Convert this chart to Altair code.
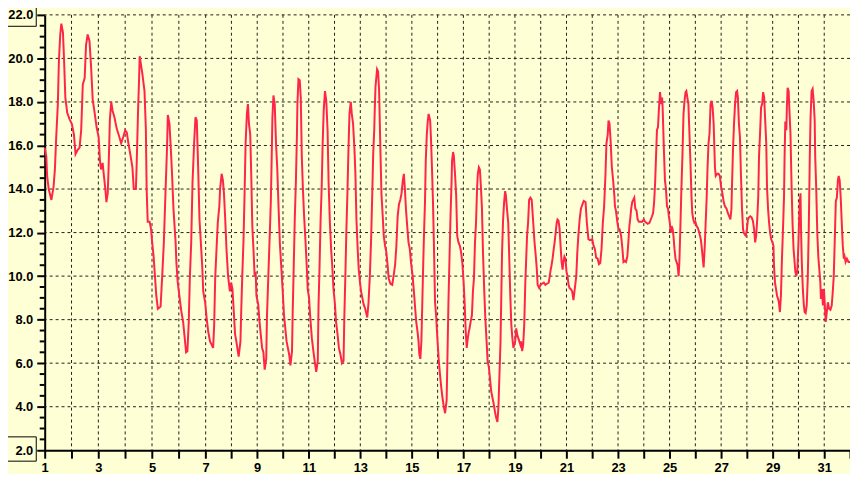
import altair as alt
import pandas as pd

# ---- data (day of month, temperature) ----
day = [
    1.00, 1.06, 1.09, 1.15, 1.25, 1.33, 1.38, 1.43, 1.49, 1.53, 1.58, 1.62, 1.68, 1.72, 1.77, 1.84, 1.93,
    2.01, 2.09, 2.15, 2.23, 2.30, 2.36, 2.42, 2.49, 2.54, 2.60, 2.67, 2.73, 2.79, 2.85, 2.94,
    3.01, 3.06, 3.10, 3.16, 3.20, 3.26, 3.30, 3.35, 3.38, 3.43, 3.48, 3.53, 3.60, 3.68, 3.78, 3.85, 3.93,
    4.00, 4.06, 4.12, 4.19, 4.27, 4.32, 4.40, 4.43, 4.48, 4.52, 4.54, 4.59, 4.64, 4.72, 4.77, 4.80, 4.84, 4.91, 4.96,
    5.01, 5.06, 5.11, 5.16, 5.22, 5.32, 5.38, 5.44, 5.51, 5.56, 5.59, 5.65, 5.70, 5.75, 5.80, 5.88, 5.91, 5.96,
    6.02, 6.09, 6.16, 6.22, 6.27, 6.32, 6.37, 6.41, 6.46, 6.51, 6.57, 6.62, 6.67, 6.72, 6.77, 6.82, 6.87, 6.91, 6.98,
    7.04, 7.10, 7.17, 7.23, 7.29, 7.33, 7.37, 7.42, 7.47, 7.53, 7.56, 7.62, 7.67, 7.71, 7.76, 7.81, 7.87, 7.94, 7.99,
    8.04, 8.09, 8.14, 8.19, 8.28, 8.35, 8.38, 8.42, 8.47, 8.51, 8.55, 8.60, 8.64, 8.68, 8.73, 8.77, 8.81, 8.86, 8.90, 8.94, 8.97,
    9.04, 9.09, 9.14, 9.19, 9.24, 9.29, 9.35, 9.38, 9.44, 9.49, 9.53, 9.56, 9.59, 9.63, 9.68, 9.73, 9.78, 9.83, 9.88, 9.94, 9.99,
    10.04, 10.09, 10.14, 10.19, 10.24, 10.29, 10.35, 10.38, 10.42, 10.46, 10.50, 10.54, 10.56, 10.60, 10.65, 10.69, 10.73, 10.77, 10.82, 10.87, 10.92, 10.96,
    11.01, 11.06, 11.12, 11.18, 11.23, 11.29, 11.35, 11.38, 11.42, 11.46, 11.50, 11.54, 11.58, 11.63, 11.68, 11.73, 11.77, 11.82, 11.87, 11.91, 11.96,
    12.01, 12.06, 12.12, 12.17, 12.23, 12.29, 12.35, 12.38, 12.42, 12.46, 12.50, 12.54, 12.58, 12.63, 12.67, 12.72, 12.77, 12.81, 12.85, 12.90, 12.94, 12.99,
    13.03, 13.08, 13.13, 13.19, 13.27, 13.32, 13.37, 13.42, 13.46, 13.50, 13.54, 13.56, 13.59, 13.62, 13.65, 13.69, 13.73, 13.78, 13.82, 13.87, 13.91, 13.96,
    14.01, 14.06, 14.10, 14.17, 14.24, 14.29, 14.35, 14.40, 14.45, 14.50, 14.55, 14.60, 14.65, 14.69, 14.73, 14.77, 14.82, 14.87, 14.92, 14.97,
    15.03, 15.08, 15.13, 15.17, 15.22, 15.26, 15.29, 15.33, 15.37, 15.40, 15.44, 15.47, 15.51, 15.54, 15.58, 15.62, 15.65, 15.71, 15.74, 15.78, 15.82, 15.86, 15.90, 15.94, 15.99,
    16.04, 16.09, 16.14, 16.19, 16.24, 16.29, 16.35, 16.38, 16.42, 16.46, 16.50, 16.54, 16.56, 16.60, 16.63, 16.68, 16.72, 16.76, 16.81, 16.86, 16.91, 16.96,
    17.01, 17.05, 17.09, 17.13, 17.17, 17.21, 17.24, 17.28, 17.33, 17.37, 17.41, 17.45, 17.49, 17.53, 17.56, 17.60, 17.64, 17.68, 17.72, 17.76, 17.81, 17.85, 17.90, 17.94, 17.99,
    18.04, 18.08, 18.13, 18.18, 18.22, 18.27, 18.32, 18.36, 18.40, 18.44, 18.47, 18.50, 18.54, 18.58, 18.62, 18.65, 18.69, 18.74, 18.78, 18.82, 18.86, 18.90, 18.94, 18.97,
    19.01, 19.05, 19.09, 19.13, 19.17, 19.21, 19.24, 19.28, 19.32, 19.36, 19.40, 19.44, 19.47, 19.51, 19.55, 19.60, 19.65, 19.71, 19.76, 19.81, 19.85, 19.88, 19.94, 19.99,
    20.05, 20.12, 20.18, 20.24, 20.31, 20.35, 20.38, 20.42, 20.46, 20.50, 20.54, 20.58, 20.62, 20.65, 20.69, 20.73, 20.77, 20.81, 20.85, 20.88, 20.92, 20.96,
    21.00, 21.04, 21.08, 21.12, 21.17, 21.22, 21.27, 21.31, 21.38, 21.42, 21.46, 21.51, 21.56, 21.62, 21.67, 21.74, 21.79, 21.85, 21.91,
    22.00, 22.05, 22.10, 22.15, 22.21, 22.26, 22.31, 22.36, 22.41, 22.46, 22.51, 22.55, 22.60, 22.63, 22.67, 22.71, 22.76, 22.81, 22.86, 22.88, 22.92, 22.96,
    23.01, 23.06, 23.12, 23.17, 23.21, 23.26, 23.31, 23.36, 23.40, 23.44, 23.47, 23.51, 23.55, 23.59, 23.63, 23.67, 23.72, 23.76, 23.81, 23.87, 23.94,
    24.00, 24.05, 24.10, 24.15, 24.22, 24.27, 24.32, 24.36, 24.40, 24.44, 24.47, 24.51, 24.55, 24.59, 24.63, 24.67, 24.71, 24.73, 24.78, 24.82, 24.86, 24.90, 24.94, 24.97,
    25.01, 25.04, 25.08, 25.12, 25.15, 25.19, 25.23, 25.27, 25.31, 25.35, 25.38, 25.42, 25.46, 25.50, 25.54, 25.58, 25.62, 25.65, 25.69, 25.73, 25.77, 25.81, 25.85, 25.88, 25.92, 25.96,
    26.00, 26.05, 26.10, 26.15, 26.21, 26.24, 26.28, 26.32, 26.36, 26.40, 26.44, 26.47, 26.51, 26.55, 26.59, 26.63, 26.67, 26.71, 26.76, 26.79, 26.85, 26.90, 26.95,
    27.00, 27.05, 27.10, 27.15, 27.21, 27.26, 27.31, 27.36, 27.40, 27.42, 27.46, 27.50, 27.54, 27.58, 27.62, 27.65, 27.69, 27.73, 27.77, 27.81, 27.85, 27.88, 27.92, 27.96,
    28.00, 28.04, 28.08, 28.13, 28.18, 28.23, 28.28, 28.32, 28.36, 28.40, 28.44, 28.47, 28.51, 28.55, 28.59, 28.63, 28.67, 28.71, 28.75, 28.78, 28.82, 28.86, 28.90, 28.94, 28.99,
    29.03, 29.05, 29.09, 29.13, 29.17, 29.21, 29.24, 29.28, 29.32, 29.36, 29.40, 29.44, 29.46, 29.49, 29.53, 29.55, 29.58, 29.62, 29.65, 29.69, 29.73, 29.77, 29.81, 29.85, 29.88, 29.92, 29.96,
    30.00, 30.03, 30.05, 30.08, 30.10, 30.13, 30.17, 30.21, 30.24, 30.28, 30.32, 30.36, 30.40, 30.44, 30.47, 30.51, 30.55, 30.59, 30.63, 30.65, 30.69, 30.73, 30.77, 30.81, 30.85, 30.87, 30.91, 30.95, 30.99,
    31.03, 31.06, 31.10, 31.14, 31.19, 31.24, 31.29, 31.33, 31.37, 31.41, 31.45, 31.49, 31.53, 31.56, 31.60, 31.64, 31.68, 31.72, 31.76, 31.79, 31.83, 31.88, 31.94, 32.00,
]

temp = [
    15.9, 15.5, 14.6, 14.0, 13.5, 14.1, 14.9, 16.4, 17.9, 19.9, 21.1, 21.6, 21.2, 20.0, 18.2, 17.5, 17.2,
    17.0, 16.5, 15.6, 15.8, 15.9, 16.7, 18.8, 19.1, 20.6, 21.1, 20.8, 19.6, 18.1, 17.6, 16.8,
    16.4, 15.3, 14.9, 15.2, 14.7, 14.0, 13.4, 13.8, 14.9, 17.2, 18.0, 17.6, 17.3, 16.8, 16.4, 16.1, 16.4,
    16.7, 16.6, 16.1, 15.6, 15.0, 14.0, 14.0, 15.2, 17.6, 19.1, 20.1, 19.7, 19.3, 18.5, 16.8, 14.0, 12.5, 12.5, 12.2,
    11.5, 10.9, 10.0, 9.1, 8.5, 8.6, 10.0, 11.5, 14.1, 15.9, 17.4, 17.0, 15.9, 14.6, 13.1, 11.55, 10.6, 9.7,
    9.1, 8.4, 7.9, 7.15, 6.5, 6.55, 7.9, 9.9, 11.5, 14.3, 16.1, 17.3, 17.15, 15.0, 12.6, 11.55, 10.5, 9.3, 8.8,
    8.05, 7.45, 7.0, 6.85, 6.7, 7.75, 9.9, 11.2, 12.45, 13.2, 14.0, 14.7, 14.4, 13.8, 12.6, 11.2, 10.0, 9.3, 9.7,
    9.4, 8.4, 7.35, 7.0, 6.3, 7.0, 8.4, 10.0, 11.7, 13.8, 16.1, 17.45, 17.9, 17.0, 16.5, 14.6, 12.3, 11.1, 10.0, 10.2, 9.1,
    8.7, 7.9, 7.3, 6.7, 6.5, 5.7, 6.2, 8.2, 10.3, 12.0, 13.5, 15.3, 17.3, 18.3, 17.9, 16.1, 14.9, 13.1, 11.5, 10.3, 9.3,
    8.2, 7.6, 7.0, 6.7, 6.4, 5.9, 6.55, 8.5, 10.6, 12.75, 14.3, 16.4, 17.9, 19.05, 19.0, 18.2, 15.5, 14.1, 12.75, 11.7, 10.5, 9.4,
    9.0, 8.1, 7.15, 6.55, 6.1, 5.6, 6.1, 8.7, 10.5, 12.6, 14.0, 16.1, 17.6, 18.5, 18.05, 16.7, 14.3, 12.45, 11.2, 10.5, 9.4,
    8.8, 7.9, 7.3, 6.7, 6.4, 6.0, 6.1, 8.1, 10.0, 12.1, 13.8, 15.8, 17.45, 18.0, 17.45, 17.0, 15.9, 14.7, 12.6, 11.2, 10.3, 9.7,
    9.3, 9.0, 8.7, 8.5, 8.1, 8.8, 10.0, 11.7, 13.6, 15.6, 16.7, 17.6, 18.7, 19.1, 19.5, 19.4, 18.5, 15.8, 13.8, 12.75, 11.85, 11.4,
    11.1, 10.5, 9.9, 9.65, 9.6, 10.0, 10.5, 11.4, 12.75, 13.3, 13.5, 13.8, 14.4, 14.7, 14.0, 13.1, 12.3, 11.55, 11.25, 10.6,
    10.0, 9.3, 8.5, 7.9, 7.45, 7.0, 6.4, 6.2, 7.0, 8.5, 10.5, 11.85, 13.4, 15.3, 16.5, 17.15, 17.45, 17.15, 16.4, 15.0, 13.4, 11.25, 8.8, 8.2, 7.15,
    6.2, 5.5, 4.9, 4.4, 4.0, 3.7, 4.3, 6.2, 8.8, 10.8, 12.75, 14.3, 15.3, 15.7, 15.5, 14.6, 13.7, 11.85, 11.55, 11.4, 11.1, 10.6,
    9.7, 8.7, 7.45, 6.7, 7.15, 7.45, 7.6, 7.9, 8.2, 9.3, 9.9, 11.55, 12.45, 14.0, 14.7, 15.0, 14.9, 14.1, 13.1, 11.1, 9.3, 8.1, 7.0, 6.1, 5.8,
    5.2, 4.7, 4.4, 4.1, 3.8, 3.5, 3.3, 4.0, 5.5, 7.0, 9.0, 11.1, 12.6, 13.4, 13.9, 13.7, 13.1, 12.45, 10.8, 9.1, 7.75, 7.15, 6.7, 6.85,
    7.0, 7.6, 7.3, 7.15, 7.0, 6.85, 7.0, 6.55, 6.85, 7.75, 9.6, 10.9, 11.85, 12.45, 13.5, 13.6, 13.5, 12.45, 11.55, 10.9, 10.3, 9.6, 9.45, 9.6,
    9.65, 9.7, 9.6, 9.65, 9.7, 10.0, 10.25, 10.5, 10.8, 11.2, 11.55, 12.0, 12.45, 12.6, 12.55, 12.2, 11.4, 10.65, 10.3, 10.65, 10.9, 10.8,
    10.2, 10.0, 9.6, 9.45, 9.4, 9.3, 8.9, 9.3, 10.0, 11.1, 11.85, 12.6, 13.1, 13.3, 13.45, 13.4, 12.45, 11.7, 11.65,
    11.7, 11.4, 11.25, 10.85, 10.8, 10.55, 10.6, 11.25, 12.45, 13.2, 14.6, 16.1, 16.5, 17.15, 17.0, 16.25, 15.0, 14.4, 13.65, 13.2, 13.0, 12.6,
    12.2, 12.15, 11.85, 11.25, 10.65, 10.7, 10.65, 10.9, 11.55, 12.3, 12.6, 13.1, 13.4, 13.5, 13.6, 13.1, 13.0, 12.6, 12.5, 12.5, 12.5,
    12.6, 12.5, 12.45, 12.4, 12.45, 12.6, 12.75, 12.9, 13.4, 14.3, 15.35, 16.7, 16.85, 17.75, 18.45, 17.9, 18.2, 17.75, 15.8, 14.4, 14.0, 13.2, 13.1, 12.75,
    12.45, 12.0, 12.3, 12.15, 11.85, 11.25, 10.8, 10.65, 10.5, 10.0, 10.65, 12.3, 14.1, 15.6, 17.45, 18.05, 18.45, 18.5, 18.2, 17.9, 16.55, 15.2, 13.65, 12.9, 12.6, 12.45,
    12.5, 12.3, 12.2, 12.0, 11.7, 11.4, 10.9, 10.4, 11.25, 12.45, 13.65, 14.9, 16.1, 16.55, 17.9, 18.05, 17.75, 17.0, 15.0, 14.6, 14.7, 14.7, 14.6,
    14.1, 13.8, 13.4, 13.2, 13.1, 12.9, 12.75, 12.6, 13.1, 14.1, 15.8, 17.0, 17.9, 18.45, 18.5, 18.2, 17.0, 16.4, 14.6, 13.1, 12.15, 12.0, 11.9, 11.85,
    12.15, 12.6, 12.7, 12.75, 12.7, 12.55, 12.15, 11.55, 11.85, 12.6, 13.65, 15.5, 16.55, 17.75, 17.9, 18.45, 18.2, 17.15, 16.1, 14.1, 13.1, 12.45, 12.0, 11.7, 11.55,
    11.4, 10.5, 9.7, 9.4, 9.1, 8.95, 8.8, 8.35, 9.1, 10.8, 12.15, 13.65, 15.35, 17.1, 16.7, 17.75, 18.65, 18.5, 17.6, 16.55, 14.3, 12.45, 11.25, 10.65, 10.2, 10.0, 10.3,
    11.55, 12.75, 13.4, 13.8, 12.2, 10.65, 9.4, 8.65, 8.35, 8.3, 8.65, 9.85, 12.15, 15.5, 17.3, 18.5, 18.6, 18.05, 17.15, 15.5, 14.0, 12.0, 10.9, 10.3, 9.7, 8.95, 9.4, 8.65, 9.4,
    8.5, 7.9, 8.35, 8.8, 8.5, 8.45, 8.65, 9.25, 10.0, 11.7, 13.45, 13.6, 14.4, 14.6, 14.4, 13.6, 12.45, 11.4, 10.8, 10.9, 10.65, 10.8, 10.65, 10.65,
]

# ---- axis / grid values ----
x_tick_days = list(range(1, 33))
x_grid_days = list(range(2, 32))
y_major = [2, 4, 6, 8, 10, 12, 14, 16, 18, 20, 22]
y_grid = [4, 6, 8, 10, 12, 14, 16, 18, 20, 22]
y_minor = [v / 2 for v in range(5, 44) if v % 4 != 0]

BG = "#FFFFD5"
RED = "#FF2449"
GRID = "#1E1E1E"
FONT = "Liberation Sans"

line_df = pd.DataFrame({"day": day, "temp": temp})
xgrid_df = pd.DataFrame({"day": x_grid_days})
ygrid_df = pd.DataFrame({"temp": y_grid})
yminor_df = pd.DataFrame({"temp": y_minor})

xscale = alt.Scale(domain=[1, 7, 32], range=[0, 162.3, 812], nice=False, zero=False)
yscale = alt.Scale(domain=[2, 22], nice=False, zero=False)

x_axis = alt.Axis(
    values=x_tick_days, format="d",
    labelExpr="datum.value % 2 == 1 ? datum.label : ''",
    grid=False, tickSize=8, tickWidth=2, tickColor="black",
    domainColor="black", domainWidth=2,
    labelFont=FONT, labelFontSize=13, labelFontWeight="bold", labelColor="black",
    labelPadding=3, labelFlush=False, labelOverlap=False, title=None,
)
y_axis = alt.Axis(
    values=y_major, format=".1f",
    grid=False, tickSize=8, tickWidth=2, tickColor="black",
    domainColor="black", domainWidth=2,
    labelFont=FONT, labelFontSize=13, labelFontWeight="bold", labelColor="black",
    labelPadding=4, labelFlush=False, labelOverlap=False, title=None,
)

X = alt.X("day:Q", scale=xscale, axis=x_axis)
Y = alt.Y("temp:Q", scale=yscale, axis=y_axis)

hgrid = alt.Chart(ygrid_df).mark_rule(color=GRID, strokeWidth=1, strokeDash=[3, 3]).encode(y=Y)
vgrid = alt.Chart(xgrid_df).mark_rule(color=GRID, strokeWidth=1, strokeDash=[3, 3]).encode(x=X)
minor = alt.Chart(yminor_df).mark_rule(color="black", strokeWidth=2).encode(
    y=Y, x=alt.value(-5), x2=alt.value(0),
)
line = alt.Chart(line_df).mark_line(color=RED, strokeWidth=2).encode(x=X, y=Y)

box_top = alt.Chart(pd.DataFrame({"a": [0]})).mark_rect(
    fillOpacity=0, stroke="black", strokeWidth=1
).encode(x=alt.value(-40), x2=alt.value(-8.5), y=alt.value(-8), y2=alt.value(11.5))
box_bot = alt.Chart(pd.DataFrame({"a": [0]})).mark_rect(
    fillOpacity=0, stroke="black", strokeWidth=1
).encode(x=alt.value(-40), x2=alt.value(-8.5), y=alt.value(425.5), y2=alt.value(450))

chart = alt.layer(hgrid, vgrid, minor, line, box_top, box_bot).properties(
    width=812, height=439,
    background=BG,
    autosize=alt.AutoSizeParams(type="none"),
    padding={"left": 37, "top": 5, "right": 0, "bottom": 22},
).configure_view(stroke=None)

chart.save("out.html", embed_options={"renderer": "svg", "actions": False})
